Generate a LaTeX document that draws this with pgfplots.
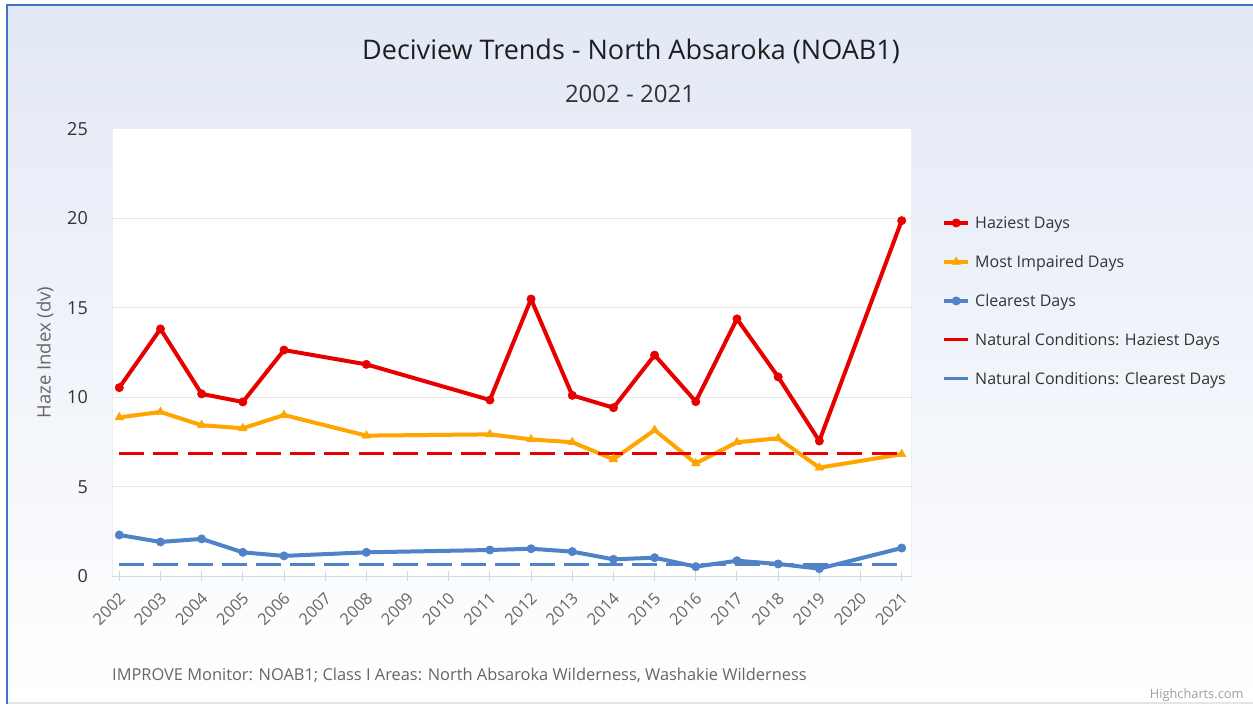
\documentclass[border=0pt]{standalone}
\usepackage{fontspec}
\setmainfont{Open Sans}
\usepackage{pgfplots}
\pgfplotsset{compat=1.18}
\usepackage{pgfplotstable}

\definecolor{hazred}{RGB}{232,0,0}
\definecolor{impor}{RGB}{255,165,0}
\definecolor{clrblue}{RGB}{79,130,198}
\definecolor{gridgray}{RGB}{230,230,230}
\definecolor{bordergray}{RGB}{236,236,236}
\definecolor{axisblue}{RGB}{204,214,235}
\definecolor{bgtop}{RGB}{226,232,245}
\definecolor{frameblue}{RGB}{68,114,196}
\definecolor{txtdark}{RGB}{51,51,51}
\definecolor{txtgray}{RGB}{102,102,102}

% x = category index (2002 -> 0 ... 2021 -> 19); years without data are skipped
\pgfplotstableread{
x  haziest impaired clearest
0  10.55   8.89     2.32
1  13.83   9.19     1.93
2  10.20   8.45     2.10
3  9.75    8.28     1.35
4  12.65   9.02     1.15
6  11.85   7.87     1.35
9  9.86    7.94     1.48
10 15.50   7.66     1.55
11 10.12   7.50     1.39
12 9.43    6.55     0.96
13 12.37   8.18     1.05
14 9.77    6.32     0.55
15 14.39   7.50     0.88
16 11.15   7.72     0.70
17 7.57    6.08     0.44
19 19.88   6.83     1.59
}\trend

\begin{document}
\begin{tikzpicture}
\useasboundingbox (0,0) rectangle (1253pt,706pt);
\fill[white] (0,0) rectangle (1253pt,706pt);
\shade[top color=bgtop, middle color=white, bottom color=white] (6pt,4pt) rectangle (1253pt,701.5pt);
\fill[frameblue] (6pt,699.5pt) rectangle (1253pt,701.5pt);
\fill[frameblue] (6pt,2pt) rectangle (8pt,701.5pt);
\fill[gray!20] (8pt,2pt) rectangle (1253pt,3.5pt);

\node[font=\fontsize{27}{31}\selectfont, text=black!88] at (631pt,655pt) {Deciview Trends - North Absaroka (NOAB1)};
\node[font=\fontsize{24}{28}\selectfont, text=txtdark] at (630pt,612pt) {2002 - 2021};
\node[anchor=west, inner sep=0pt, font=\fontsize{16.4}{19}\selectfont, text=txtgray] at (112pt,31pt) {IMPROVE Monitor: NOAB1; Class I Areas: North Absaroka Wilderness, Washakie Wilderness};
\node[anchor=east, font=\fontsize{12.8}{15}\selectfont, text=gray!75] at (1247pt,11pt) {Highcharts.com};

\begin{axis}[
    at={(112pt,129.5pt)}, anchor=south west,
    scale only axis,
    width=799pt, height=447.5pt,
    xmin=-0.177, xmax=19.226,
    ymin=0, ymax=25,
    xtick={0,...,19},
    xticklabels={2002,2003,2004,2005,2006,2007,2008,2009,2010,2011,2012,2013,2014,2015,2016,2017,2018,2019,2020,2021},
    ytick={0,5,10,15,20,25},
    xtick pos=bottom,
    major tick length=10pt,
    xtick style={draw=axisblue, line width=1pt, yshift=-5pt},
    ytick style={draw=none},
    ymajorgrids,
    major grid style={gridgray, line width=1pt},
    axis line style={bordergray, line width=1pt},
    axis background/.style={fill=white},
    /pgf/number format/assume math mode=true,
    yticklabel style={font=\fontsize{18}{21}\selectfont, text=txtdark, inner sep=0pt, xshift=-24pt},
    xticklabel style={font=\fontsize{16.3}{18}\selectfont, text=txtgray, xshift=3pt, yshift=-19pt, rotate=45, anchor=east, inner sep=0pt},
    ylabel={Haze Index (dv)},
    every axis y label/.style={at={(rel axis cs:0,0.5)}, xshift=-67pt, rotate=90, anchor=center, font=\fontsize{18.5}{22}\selectfont, text=txtgray},
    legend style={at={(1,1)}, anchor=north west, xshift=31pt, yshift=-88pt,
        draw=none, fill=none, inner sep=0pt, row sep=27.5pt, column sep=5pt,
        font=\fontsize{16}{19}\selectfont, text=txtdark,
        nodes={inner sep=0pt, text height=11.5pt, text depth=0pt}},
    legend cell align=left,
    legend image code/.code={\draw[mark repeat=2,mark phase=2,#1] plot coordinates {(0pt,0pt) (12pt,0pt) (24pt,0pt)};},
    every axis plot/.append style={line join=round},
]
\addplot[hazred, line width=4pt, mark=*, mark size=4.2pt, mark options={solid, line width=0.5pt}] table[x=x, y=haziest] {\trend};
\addlegendentry{Haziest Days}
\addplot[impor, line width=4pt, mark=triangle*, mark size=5pt, mark options={solid, line width=0.5pt}] table[x=x, y=impaired] {\trend};
\addlegendentry{Most Impaired Days}
\addplot[clrblue, line width=4pt, mark=*, mark size=4.2pt, mark options={solid, line width=0.5pt}] table[x=x, y=clearest] {\trend};
\addlegendentry{Clearest Days}
\addlegendimage{hazred, line width=3pt}
\addlegendentry{Natural Conditions: Haziest Days}
\addlegendimage{clrblue, line width=3pt}
\addlegendentry{Natural Conditions: Clearest Days}
\addplot[hazred, line width=3pt, dash pattern=on 25pt off 9.2pt, forget plot] coordinates {(0,6.88) (19,6.88)};
\addplot[clrblue, line width=3pt, dash pattern=on 25pt off 9.2pt, forget plot] coordinates {(0,0.68) (19,0.68)};
\draw[axisblue, line width=1pt] (rel axis cs:0,0) -- (rel axis cs:1,0);
\end{axis}
\end{tikzpicture}
\end{document}
